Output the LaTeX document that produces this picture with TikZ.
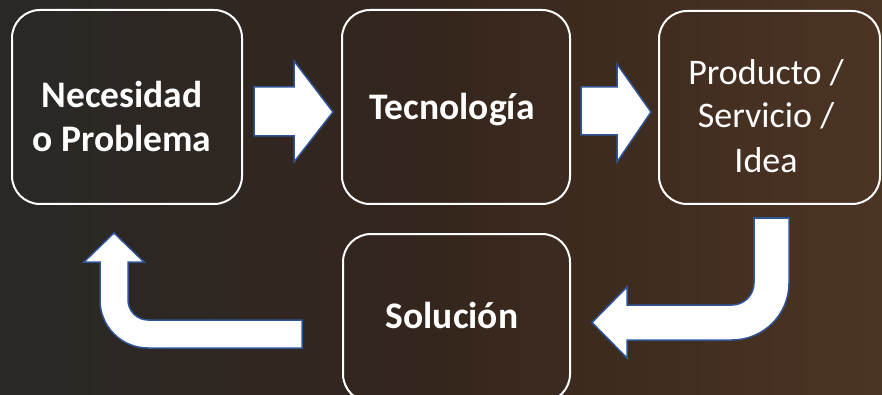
\documentclass[tikz,border=0pt]{standalone}
\usepackage{fontspec}
\setmainfont{Carlito}
\definecolor{bgL}{HTML}{292826}
\definecolor{bgM}{HTML}{35261D}
\definecolor{bgR}{HTML}{4C3423}
\definecolor{arrowblue}{HTML}{2F5597}
\tikzset{
  box/.style={draw=white, line width=2pt, rounded corners=28pt, inner sep=0pt},
  lbl/.style={text=white, anchor=base, inner sep=0pt, align=center, font=\fontsize{36}{44}\selectfont},
  blbl/.style={lbl, font=\fontsize{37.5}{44}\selectfont\bfseries},
  blockarrow/.style={fill=white, draw=arrowblue, line width=1.5pt, line join=miter}
}
\begin{document}
\begin{tikzpicture}[x=1pt, y=-1pt]
\useasboundingbox (0,0) rectangle (882,395);
\clip (0,0) rectangle (882,395);
\shade[left color=bgL, right color=bgR, middle color=bgM, shading angle=90] (0,0) rectangle (882,395);
% boxes
\node[box, minimum width=230pt, minimum height=194pt] (b1) at (127,107) {};
\node[box, minimum width=228pt, minimum height=194pt] (b2) at (456,107) {};
\node[box, minimum width=221pt, minimum height=193pt] (b3) at (769.5,107.5) {};
\node[box, minimum width=227pt, minimum height=168pt] (b4) at (456.5,318) {};
% labels
\node[blbl] (t1a) at (122,108) {Necesidad};
\node[blbl] (t1b) at (122,152) {o Problema};
\node[blbl] (t2) at (452,120) {Tecnología};
\node[lbl] (t3a) at (766,85) {Producto /};
\node[lbl] (t3b) at (766,128) {Servicio /};
\node[lbl] (t3c) at (766,173) {Idea};
\node[blbl] (t4) at (452,328) {Solución};
% arrows
\draw[blockarrow] (254,87) -- (294,87) -- (294,61) -- (333,112) -- (294,162) -- (294,136) -- (254,136) -- cycle;
\draw[blockarrow] (581,87) -- (617,87) -- (617,64) -- (651,112) -- (617,162) -- (617,135) -- (581,135) -- cycle;
\draw[blockarrow] (754,218) -- (789,218) -- (789,283) .. controls (789,314.5) and (763.5,340) .. (732,340) -- (627,340) -- (627,358) -- (592,322.5) -- (627,287) -- (627,305) -- (732,305) .. controls (744.1,305) and (754,295.1) .. (754,283) -- cycle;
\draw[blockarrow] (302,320) -- (148,320) .. controls (137,320) and (128,311) .. (128,300) -- (128,262) -- (144,262) -- (114,233) -- (84,262) -- (100,262) -- (100,300) .. controls (100,326.5) and (121.5,348) .. (148,348) -- (302,348) -- cycle;
\end{tikzpicture}
\end{document}
